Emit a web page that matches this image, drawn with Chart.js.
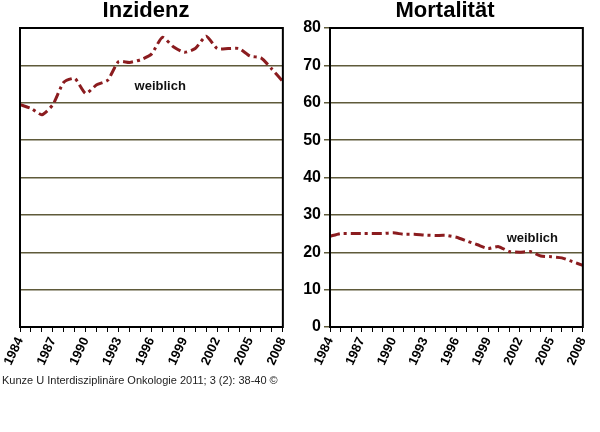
<!DOCTYPE html>
<html><head><meta charset="utf-8">
<script src="https://cdn.jsdelivr.net/npm/chart.js@4"></script>
<style>
body{margin:0;background:#fff;width:600px;height:432px;position:relative;overflow:hidden;font-family:Arial,"Liberation Sans",sans-serif}
#c1{position:absolute;left:0;top:0}
#c2{position:absolute;left:292px;top:0}
#src{position:absolute;left:2px;top:374px;font-size:11px;color:#222}
</style></head><body>
<canvas id="c1" width="300" height="400"></canvas>
<canvas id="c2" width="308" height="400"></canvas>
<div id="src">Kunze U Interdisziplinäre Onkologie 2011; 3 (2): 38-40 ©</div>
<script>
let years = [];
for (let y = 1984; y <= 2008; y++) years.push(String(y));
let incidence = [59.5, 58.5, 56.8, 59.5, 65.5, 66.5, 62.5, 64.8, 66, 71, 70.8, 71.5, 73, 77.5, 75, 73.5, 74.5, 77.8, 74.5, 74.5, 74.5, 72.5, 72, 69, 65.7];
let mortality = [24.3, 25, 25, 25, 25, 25, 25.2, 24.8, 24.8, 24.6, 24.5, 24.5, 24, 23, 22, 21, 21.5, 20.2, 20, 20.2, 19, 18.8, 18.5, 17.5, 16.5];
let yTicks = [0, 10, 20, 30, 40, 50, 60, 70, 80];

let frame = {
    id:'frame',
    afterDraw(chart){
        let a = chart.chartArea, ctx = chart.ctx;
        ctx.save();
        ctx.strokeStyle = '#000';
        ctx.lineWidth = 2;
        ctx.strokeRect(a.left, a.top, a.right - a.left, a.bottom - a.top);
        ctx.restore();
    }
};
let label = {
    id:'label',
    afterDraw(chart, args, opts){
        let ctx = chart.ctx;
        ctx.save();
        ctx.font = 'bold 13px Arial';
        ctx.fillStyle = '#111';
        ctx.textAlign = 'center';
        let x = chart.scales.x.getPixelForValue(opts.idx);
        let y = chart.scales.y.getPixelForValue(opts.val);
        ctx.fillText('weiblich', x, y);
        ctx.restore();
    }
};

function makeChart(id, title, data, showY, yWidth, pad, lab){
    return new Chart(document.getElementById(id), {
        type:'line',
        data:{
            labels: years,
            datasets:[{
                data: data,
                borderColor:'#8b1c1f',
                borderWidth:3,
                borderDash:[10, 4, 3, 4],
                pointRadius:0,
                tension:0.2
            }]
        },
        options:{
            responsive:false,
            animation:false,
            layout:{padding:pad},
            scales:{
                x:{
                    offset:false,
                    grid:{drawOnChartArea:false, color:'#000', tickLength:5},
                    border:{color:'#000', width:2},
                    afterFit(s){ s.height = 73; },
                    ticks:{
                        autoSkip:false,
                        minRotation:65,
                        maxRotation:65,
                        color:'#000',
                        font:{size:13, weight:'bold', family:'Arial'},
                        callback(v, i){ return i % 3 === 0 ? years[i] : ''; }
                    }
                },
                y:{
                    min:0,
                    max:80,
                    afterBuildTicks(s){ s.ticks = yTicks.map(v => ({value:v})); },
                    afterFit(s){ s.width = yWidth; },
                    grid:{color:'#5f5a3a', lineWidth:1.5, tickLength:showY ? 6 : 0},
                    border:{color:'#000', width:2},
                    ticks:{
                        display:showY,
                        color:'#000',
                        padding:3,
                        font:{size:16, weight:'bold', family:'Arial'}
                    }
                }
            },
            plugins:{
                legend:{display:false},
                tooltip:{enabled:false},
                title:{
                    display:true,
                    text:title,
                    color:'#000',
                    font:{size:22, weight:'bold', family:'Arial', lineHeight:1},
                    padding:{top:0, bottom:6}
                },
                label:lab
            }
        },
        plugins:[frame, label]
    });
}

makeChart('c1', 'Inzidenz', incidence, false, 20, {right:8, top:0}, {idx:12.8, val:63.5});
makeChart('c2', 'Mortalität', mortality, true, 38, {right:2, top:0}, {idx:19.2, val:22.8});
</script>
</body></html>
